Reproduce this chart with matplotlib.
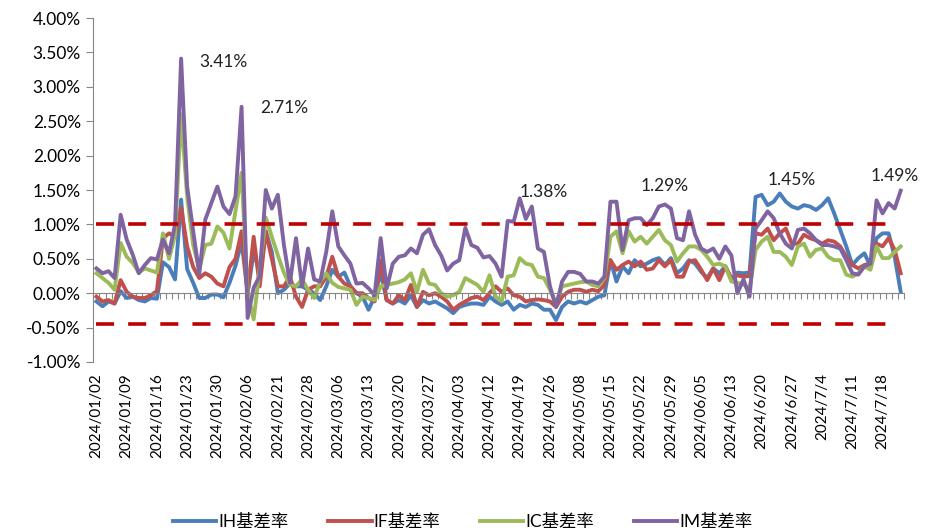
import matplotlib
matplotlib.use("Agg")
import matplotlib.pyplot as plt
import numpy as np

plt.rcParams['font.family'] = ['Lato', 'Noto Sans CJK SC', 'DejaVu Sans']

# every 5th trading day is labelled
tick_labels = [
    "2024/01/02", "2024/01/09", "2024/01/16", "2024/01/23", "2024/01/30",
    "2024/02/06", "2024/02/21", "2024/02/28", "2024/03/06", "2024/03/13",
    "2024/03/20", "2024/03/27", "2024/04/03", "2024/04/12", "2024/04/19",
    "2024/04/26", "2024/05/08", "2024/05/15", "2024/05/22", "2024/05/29",
    "2024/06/05", "2024/06/13", "2024/6/20", "2024/6/27", "2024/7/4",
    "2024/7/11", "2024/7/18",
]

# basis rates in %
ih = [-0.12, -0.19, -0.12, -0.15, 0.03, -0.07, -0.05, -0.10, -0.12, -0.07,
      -0.08, 0.45, 0.38, 0.20, 1.36, 0.35, 0.15, -0.07, -0.07, -0.02,
      -0.02, -0.06, 0.15, 0.40, 0.75, 0.00, 0.60, 0.30, 0.90, 0.60,
      0.00, 0.05, 0.14, 0.10, 0.10, 0.05, 0.00, -0.10, 0.10, 0.34,
      0.24, 0.30, 0.10, 0.00, -0.05, -0.24, -0.05, 0.30, -0.10, -0.15,
      -0.10, -0.15, -0.03, -0.20, -0.10, -0.15, -0.12, -0.17, -0.22, -0.29,
      -0.20, -0.17, -0.15, -0.15, -0.17, -0.05, -0.12, -0.17, -0.12, -0.24,
      -0.17, -0.20, -0.15, -0.17, -0.24, -0.24, -0.39, -0.20, -0.12, -0.15,
      -0.12, -0.15, -0.10, -0.05, -0.03, 0.48, 0.17, 0.39, 0.29, 0.48,
      0.39, 0.43, 0.48, 0.51, 0.41, 0.51, 0.29, 0.36, 0.48, 0.43,
      0.31, 0.22, 0.36, 0.29, 0.39, 0.20, 0.30, 0.29, 0.30, 1.40,
      1.43, 1.28, 1.33, 1.45, 1.33, 1.26, 1.23, 1.28, 1.26, 1.21,
      1.28, 1.38, 1.16, 0.92, 0.68, 0.41, 0.51, 0.58, 0.39, 0.80,
      0.87, 0.87, 0.53, 0.02]
if_ = [-0.05, -0.12, -0.10, -0.15, 0.19, 0.02, -0.05, -0.07, -0.07, -0.03,
       0.03, 0.80, 0.87, 0.82, 1.24, 0.68, 0.38, 0.22, 0.29, 0.24,
       0.14, 0.10, 0.38, 0.50, 0.90, 0.00, 0.82, 0.10, 0.90, 0.50,
       0.10, 0.10, 0.24, -0.05, -0.20, 0.05, 0.10, 0.10, 0.24, 0.53,
       0.24, 0.14, 0.10, 0.00, 0.00, -0.07, -0.12, 0.48, -0.10, -0.15,
       -0.03, -0.10, 0.12, -0.20, 0.02, -0.03, 0.00, -0.05, -0.12, -0.24,
       -0.17, -0.12, -0.07, -0.05, -0.10, 0.00, 0.10, 0.02, 0.07, -0.03,
       -0.05, -0.12, -0.10, -0.09, -0.10, -0.12, -0.20, -0.05, 0.02, 0.05,
       0.05, 0.02, 0.05, 0.03, 0.12, 0.48, 0.34, 0.41, 0.46, 0.39,
       0.46, 0.34, 0.36, 0.48, 0.39, 0.48, 0.24, 0.24, 0.46, 0.48,
       0.34, 0.19, 0.36, 0.19, 0.39, 0.22, 0.26, 0.24, 0.25, 0.87,
       0.85, 0.94, 0.77, 0.87, 0.94, 0.72, 0.72, 0.85, 0.80, 0.77,
       0.72, 0.77, 0.75, 0.68, 0.53, 0.41, 0.36, 0.41, 0.43, 0.72,
       0.68, 0.80, 0.63, 0.29]
ic = [0.29, 0.22, 0.15, 0.05, 0.73, 0.53, 0.44, 0.30, 0.36, 0.33,
      0.30, 0.87, 0.50, 0.85, 2.60, 1.40, 0.70, 0.35, 0.70, 0.72,
      0.97, 0.88, 0.65, 1.20, 1.75, 0.00, -0.38, 0.35, 1.10, 0.82,
      0.55, 0.30, 0.12, 0.10, 0.20, 0.05, -0.07, 0.17, 0.29, 0.15,
      0.09, 0.07, 0.05, -0.17, -0.05, -0.07, -0.10, 0.10, 0.12, 0.14,
      0.16, 0.20, 0.29, 0.02, 0.34, 0.14, 0.12, 0.00, -0.05, -0.03,
      0.02, 0.22, 0.17, 0.12, 0.02, 0.26, -0.05, -0.12, 0.24, 0.26,
      0.51, 0.43, 0.41, 0.24, 0.22, 0.05, -0.15, 0.10, 0.12, 0.14,
      0.16, 0.17, 0.12, 0.10, 0.22, 0.82, 0.90, 0.58, 0.90, 0.75,
      0.82, 0.72, 0.82, 0.92, 0.77, 0.70, 0.46, 0.58, 0.68, 0.68,
      0.63, 0.53, 0.41, 0.43, 0.39, 0.17, 0.15, 0.13, 0.05, 0.63,
      0.75, 0.82, 0.60, 0.60, 0.53, 0.41, 0.68, 0.72, 0.53, 0.63,
      0.65, 0.53, 0.48, 0.48, 0.27, 0.24, 0.29, 0.39, 0.34, 0.68,
      0.51, 0.51, 0.60, 0.68]
im = [0.36, 0.29, 0.32, 0.22, 1.14, 0.78, 0.56, 0.29, 0.41, 0.51,
      0.49, 0.78, 0.58, 1.00, 3.41, 1.55, 0.90, 0.28, 1.07, 1.31,
      1.55, 1.26, 1.15, 1.41, 2.71, -0.36, 0.08, 0.25, 1.50, 1.23,
      1.43, 0.70, 0.15, 0.80, 0.10, 0.65, 0.20, 0.17, 0.60, 1.19,
      0.68, 0.55, 0.43, 0.14, 0.15, 0.07, -0.03, 0.80, 0.07, 0.43,
      0.53, 0.55, 0.65, 0.58, 0.85, 0.93, 0.70, 0.55, 0.33, 0.43,
      0.48, 0.95, 0.70, 0.66, 0.52, 0.54, 0.43, 0.24, 1.05, 1.04,
      1.38, 1.08, 1.26, 0.65, 0.60, 0.10, -0.20, 0.17, 0.31, 0.31,
      0.28, 0.17, 0.17, 0.14, 0.24, 1.33, 1.33, 0.63, 1.06, 1.09,
      1.09, 0.99, 1.09, 1.26, 1.29, 1.23, 0.80, 0.77, 1.19, 0.85,
      0.65, 0.60, 0.65, 0.50, 0.68, 0.55, 0.00, 0.20, -0.05, 0.94,
      1.06, 1.19, 1.09, 0.87, 0.72, 0.65, 0.92, 0.94, 0.87, 0.77,
      0.70, 0.70, 0.68, 0.65, 0.48, 0.29, 0.27, 0.39, 0.43, 1.35,
      1.16, 1.31, 1.23, 1.49]

series_names = ["IH基差率", "IF基差率", "IC基差率", "IM基差率"]
series_colors = ["#4A7EBB", "#C0504D", "#9BBB59", "#8064A2"]

upper_band = 1.0
lower_band = -0.45

# peak labels: (index, value shown)
peaks = [(14, 3.41), (24, 2.71), (70, 1.38), (94, 1.29), (113, 1.45), (133, 1.49)]

n = len(ih)
x = np.arange(n)

fig = plt.figure(figsize=(9.25, 5.3), dpi=100)
ax = fig.add_axes([0.101, 0.317, 0.876, 0.649])

for vals, name, col in zip([ih, if_, ic, im], series_names, series_colors):
    ax.plot(x, vals, color=col, lw=2.8, label=name, solid_joinstyle='round')

ax.hlines([upper_band, lower_band], 0, n - 2.5, colors="#C00000", lw=2.6,
          linestyles=(0, (5, 3.9)), zorder=5)

# peak annotations sit up and to the right of each peak
offsets = {14: (7, -0.05), 24: (7, -0.02), 70: (4, 0.09), 94: (0, 0.27),
           113: (2, 0.19), 133: (-1, 0.21)}
for i, v in peaks:
    dx, dy = offsets[i]
    ax.text(i + dx, v + dy, "%.2f%%" % v, fontsize=12.5, ha="center", va="center",
            color="#222222")

ax.set_xlim(-0.5, n - 0.5)
ax.set_ylim(-1, 4)
ax.set_yticks(np.arange(-1, 4.01, 0.5))
ax.set_yticklabels(["%.2f%%" % t for t in np.arange(-1, 4.01, 0.5)], fontsize=12.5)
ax.tick_params(axis="y", length=5, color="#868686", pad=4)

# category axis crosses at zero, labels stay at the bottom
ax.spines["bottom"].set_position(("data", 0))
ax.set_xticks(np.arange(-0.5, n, 1))
ax.tick_params(axis="x", length=4, color="#868686", labelbottom=False)
for s in ["top", "right"]:
    ax.spines[s].set_visible(False)
ax.spines["left"].set_color("#868686")
ax.spines["bottom"].set_color("#868686")

sec = ax.secondary_xaxis("bottom")
sec.set_xticks(x[::5])
sec.set_xticklabels(tick_labels, rotation=90, fontsize=11)
sec.tick_params(length=0, pad=8)
sec.spines["bottom"].set_visible(False)

fig.legend(loc="lower center", ncol=4, frameon=False, fontsize=12.5,
           bbox_to_anchor=(0.5, -0.03), handlelength=2.5, columnspacing=2.3,
           handletextpad=0.1)

fig.savefig("out.png", dpi=100)
